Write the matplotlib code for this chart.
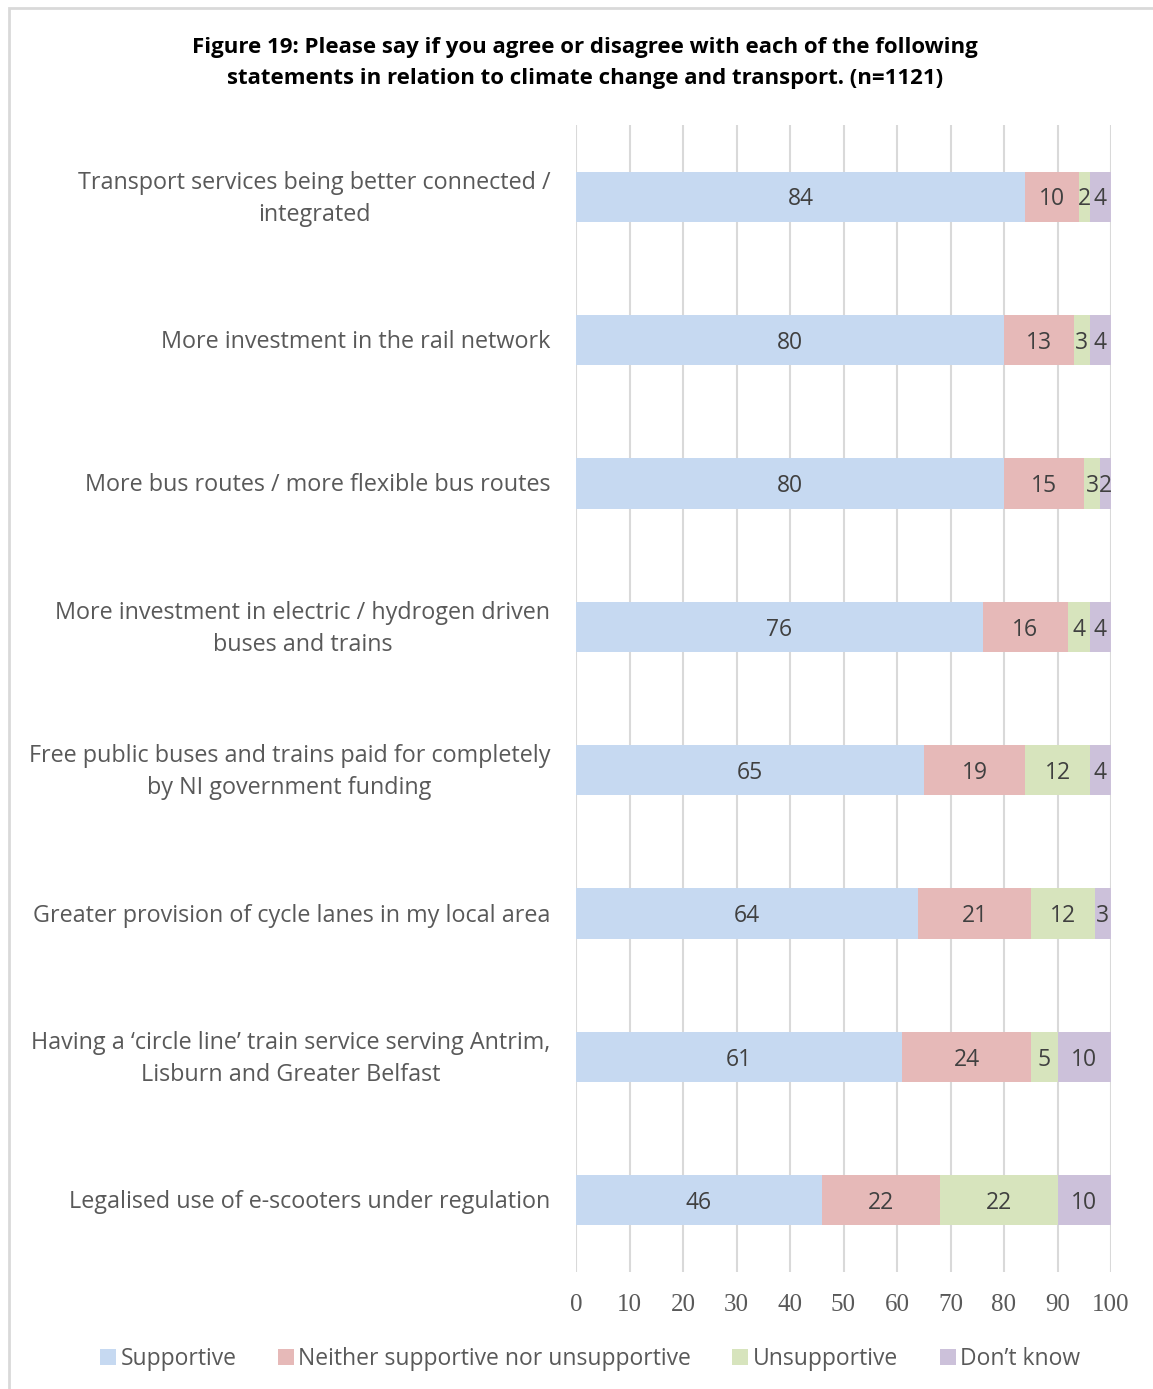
import matplotlib.pyplot as plt
import matplotlib.transforms as mtransforms
from matplotlib.patches import Rectangle, Patch

chart_title = ('Figure 19: Please say if you agree or disagree with each of the following\n'
               'statements in relation to climate change and transport. (n=1121)')

statements = [
    'Transport services being better connected /\nintegrated',
    'More investment in the rail network',
    'More bus routes / more flexible bus routes',
    'More investment in electric / hydrogen driven\nbuses and trains',
    'Free public buses and trains paid for completely\nby NI government funding',
    'Greater provision of cycle lanes in my local area',
    'Having a \u2018circle line\u2019 train service serving Antrim,\nLisburn and Greater Belfast',
    'Legalised use of e-scooters under regulation',
]

supportive = [84, 80, 80, 76, 65, 64, 61, 46]
neither = [10, 13, 15, 16, 19, 21, 24, 22]
unsupportive = [2, 3, 3, 4, 12, 12, 5, 22]
dont_know = [4, 4, 2, 4, 4, 3, 10, 10]

series_names = ['Supportive', 'Neither supportive nor unsupportive',
                'Unsupportive', 'Don\u2019t know']
colours = ['#C6D9F1', '#E6B9B8', '#D7E4BD', '#CCC1DA']
x_ticks = list(range(0, 101, 10))

W, H = 1153, 1389
fig = plt.figure(figsize=(W / 100, H / 100), dpi=100)
ax = fig.add_axes([576 / W, 1 - 1272 / H, (1111 - 576) / W, (1272 - 125) / H])

# outer frame of the figure box
fig.patches.append(Rectangle((8.5 / W, -0.1), 1.2, 1 - 7.5 / H + 0.1,
                             transform=fig.transFigure, fill=False,
                             edgecolor='#D9D9D9', linewidth=2))

ypos = list(range(len(statements)))
left = [0] * len(statements)
for vals, name, col in zip([supportive, neither, unsupportive, dont_know],
                           series_names, colours):
    bars = ax.barh(ypos, vals, left=left, height=0.35, color=col, label=name, zorder=2)
    labels = ax.bar_label(bars, labels=[str(v) for v in vals], label_type='center',
                          color='#404040', fontsize=16.5, family='Open Sans')
    for t in labels:
        t.set_position((0, -2))  # nudge digits down a touch
    left = [a + b for a, b in zip(left, vals)]

ax.set_xlim(0, 100)
ax.set_ylim(len(statements) - 0.5, -0.5)
ax.set_xticks(x_ticks)
ax.set_xticklabels([str(t) for t in x_ticks], family='Liberation Serif',
                   fontsize=18, color='#595959')
ax.set_yticks(ypos)
ax.set_yticklabels(statements, family='Open Sans', fontsize=16.8,
                   color='#595959', ha='right', va='center',
                   multialignment='center', linespacing=1.45)
ax.tick_params(axis='y', length=0, pad=18.5)
ax.tick_params(axis='x', length=0, pad=16)

# shift category labels down by 2 px
shift = mtransforms.ScaledTranslation(0, -2 / 100, fig.dpi_scale_trans)
for lbl in ax.get_yticklabels():
    lbl.set_transform(lbl.get_transform() + shift)

ax.grid(axis='x', color='#D9D9D9', linewidth=1.5, zorder=0)
for s in ax.spines.values():
    s.set_visible(False)

fig.text(585 / W, 1 - 63 / H, chart_title, ha='center', va='center',
         fontsize=16, fontweight='bold', family='Open Sans',
         linespacing=1.6)

handles = [Patch(facecolor=c, label=n) for c, n in zip(colours, series_names)]
leg = fig.legend(handles=handles, loc='center', ncol=4,
                 bbox_to_anchor=(590 / W, 1 - 1359 / H), frameon=False,
                 prop={'family': 'Open Sans', 'size': 16.5},
                 handlelength=0.7, handleheight=0.7, handletextpad=0.2,
                 columnspacing=1.8)
for t in leg.get_texts():
    t.set_color('#595959')

fig.savefig('out.png', dpi=100)
